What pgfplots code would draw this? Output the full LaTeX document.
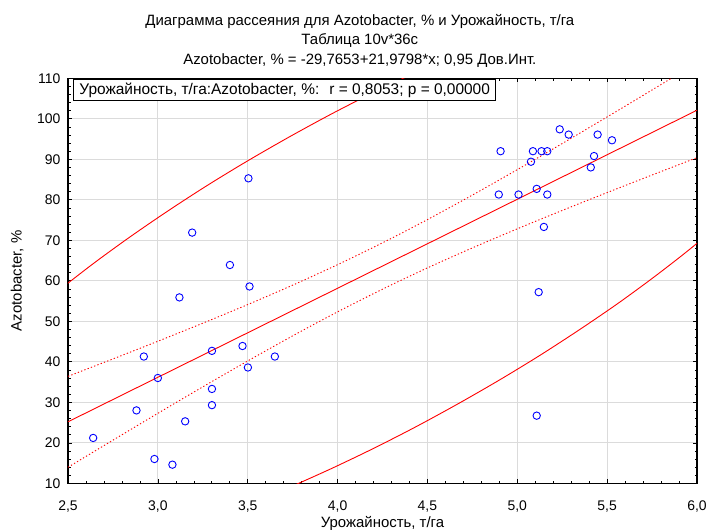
\documentclass[border=0pt]{standalone}
\usepackage{fontspec}
\setmainfont{Liberation Sans}
\usepackage{pgfplots}
\pgfplotsset{compat=1.18}

% scatter data: Урожайность (x), Azotobacter (y)
\pgfplotstableread{
x y
5.236 97.4
5.286 96.1
5.447 96.1
5.527 94.7
4.907 92.0
5.087 92.0
5.135 92.0
5.167 92.0
5.076 89.4
5.427 90.8
5.409 88.0
4.897 81.3
5.007 81.3
5.108 82.7
5.167 81.3
5.148 73.3
5.119 57.2
5.108 26.7
3.191 71.9
3.401 63.9
3.510 58.6
3.120 55.9
2.922 41.3
3.301 42.7
3.471 43.9
3.651 41.3
3.501 38.6
3.000 36.0
3.301 33.3
3.301 29.3
2.881 28.0
3.152 25.3
2.640 21.2
2.981 16.0
3.081 14.6
3.504 85.3
}\pts

\begin{document}
\begin{tikzpicture}[font=\fontsize{15}{19.5}\selectfont]
\begin{axis}[
    scale only axis,
    width=629bp, height=405bp,
    xmin=2.5, xmax=6.0,
    ymin=10, ymax=110,
    xtick={2.5,3.0,...,6.0},
    ytick={10,20,...,110},
    minor tick num=4,
    tick align=inside,
    major tick length=4bp,
    minor tick length=2.5bp,
    tick style={black, line width=0.6bp},
    axis line style={black, line width=1.1bp},
    grid=major,
    major grid style={gray!28, line width=1bp},
    /pgf/number format/assume math mode=true,
    x tick label style={/pgf/number format/fixed, /pgf/number format/fixed zerofill,
        /pgf/number format/precision=1, /pgf/number format/use comma, yshift=-14bp},
    y tick label style={/pgf/number format/fixed, /pgf/number format/precision=0, xshift=-4bp},
    ticklabel style={font=\fontsize{14}{16}\selectfont},
    xlabel={Урожайность, т/га},
    ylabel={Azotobacter, \%},
    xlabel style={at={(axis description cs:0.5,-0.1)}, anchor=center},
    ylabel style={at={(axis description cs:-0.081,0.5)}, anchor=center},
    title={Диаграмма рассеяния для Azotobacter, \% и Урожайность, т/га\\Таблица 10v*36c\\Azotobacter, \% = -29,7653+21,9798*x; 0,95 Дов.Инт.},
    title style={at={(axis description cs:0.464,1.0785)}, anchor=center, align=center},
]
% confidence bands (dotted)
\addplot[red, line width=0.9bp, dash pattern=on 1.3bp off 2.2bp, smooth] coordinates {
(2.50,36.41) (2.75,40.71) (3.00,45.07) (3.25,49.53) (3.50,54.13) (3.75,58.92)
(4.00,63.98) (4.25,69.37) (4.50,75.11) (4.75,81.16) (5.00,87.44) (5.25,93.89)
(5.50,100.46) (5.75,107.12) (6.00,113.83)};
\addplot[red, line width=0.9bp, dash pattern=on 1.3bp off 2.2bp, smooth] coordinates {
(2.50,13.96) (2.75,20.65) (3.00,27.28) (3.25,33.81) (3.50,40.20) (3.75,46.40)
(4.00,52.33) (4.25,57.93) (4.50,63.18) (4.75,68.12) (5.00,72.83) (5.25,77.37)
(5.50,81.78) (5.75,86.12) (6.00,90.40)};
% regression line
\addplot[red, line width=0.9bp] coordinates {(2.5,25.1842) (6.0,102.1135)};
% 0.95 ellipse, visible arcs
\addplot[red, line width=0.9bp, smooth] coordinates {
(4.436,111.50) (4.199,106.47) (3.962,101.10) (3.728,95.44) (3.496,89.52)
(3.270,83.41) (3.052,77.13) (2.842,70.74) (2.642,64.29) (2.454,57.83)};
\addplot[red, line width=0.9bp, smooth] coordinates {
(3.728,8.90) (3.962,13.56) (4.199,18.59) (4.436,23.96) (4.670,29.62)
(4.902,35.54) (5.128,41.65) (5.346,47.93) (5.557,54.32) (5.756,60.77)
(5.944,67.23) (6.119,73.66)};
% observations
\addplot[only marks, mark=o, mark size=3.7bp, blue, mark options={line width=0.9bp}] table {\pts};
\node[draw=black, fill=white, line width=0.9bp, anchor=north west, inner xsep=6bp,
      minimum height=20bp, font=\fontsize{15.5}{17}\selectfont]
  at ([xshift=5bp,yshift=-0.5bp]axis description cs:0,1)
  {Урожайность, т/га:Azotobacter, \%:\hspace{10bp}r = 0,8053; p = 0,00000};
\end{axis}
\pgfresetboundingbox
\useasboundingbox (-68bp,-46.7bp) rectangle (640bp,483.3bp);
\end{tikzpicture}
\end{document}
